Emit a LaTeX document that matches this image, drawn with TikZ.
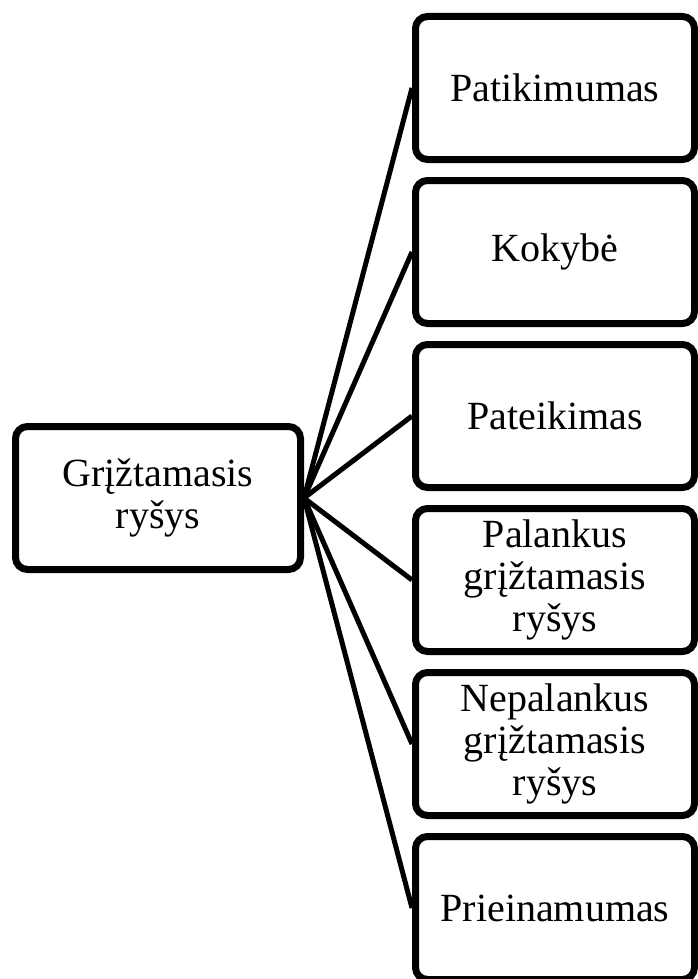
\documentclass[tikz,border=0pt]{standalone}
\usepackage{fontspec}
\setmainfont{Liberation Serif}
\usepackage{tikz}
\usetikzlibrary{positioning,shadows}
\tikzset{
  ideabox/.style={draw,line width=7pt,rounded corners=12pt,fill=white,align=center,
    minimum width=279pt,minimum height=143pt,inner sep=4pt,
    font=\fontsize{40}{42}\selectfont,
    drop shadow={shadow xshift=1pt,shadow yshift=-3pt,opacity=0.25}},
  link/.style={line width=5pt}
}

\begin{document}
\begin{tikzpicture}[x=1pt,y=-1pt,node distance=14pt]
  \useasboundingbox (0,0) rectangle (698,979);
  \node[ideabox,minimum width=285pt] (fb) at (158,498) {Grįžtamasis\\ryšys};
  \node[ideabox] (rel) at (555,88) {Patikimumas};
  \node[ideabox,below=of rel] (qual) {Kokybė};
  \node[ideabox,below=of qual] (pres) {Pateikimas};
  \node[ideabox,below=of pres] (pos) {Palankus\\grįžtamasis\\ryšys};
  \node[ideabox,below=of pos] (neg) {Nepalankus\\grįžtamasis\\ryšys};
  \node[ideabox,below=of neg] (acc) {Prieinamumas};
  \foreach \t in {rel,qual,pres,pos,neg,acc}
    \draw[link] (fb.east) -- (\t.west);
\end{tikzpicture}
\end{document}
